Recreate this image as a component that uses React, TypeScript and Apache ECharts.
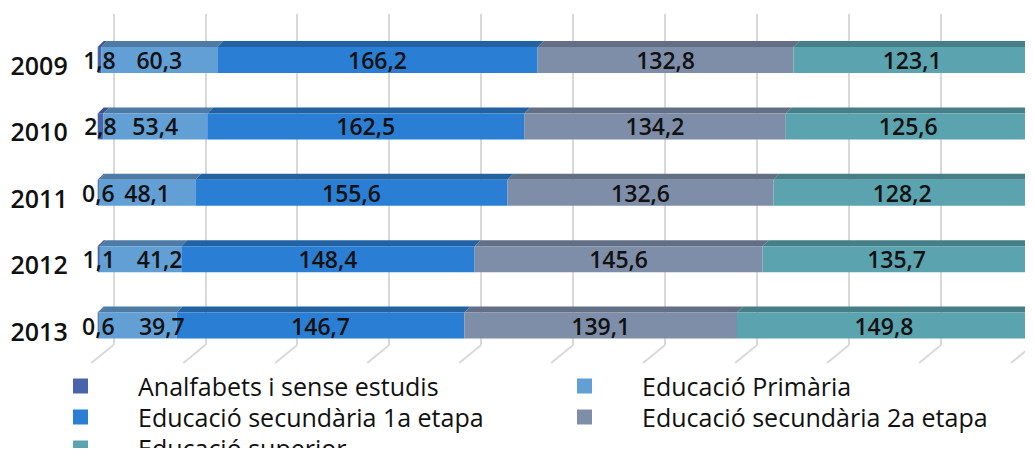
import React, { useEffect, useRef } from "react";
import * as echarts from "echarts";

const years = ["2009", "2010", "2011", "2012", "2013"];
const seriesNames = [
  "Analfabets i sense estudis",
  "Educació Primària",
  "Educació secundària 1a etapa",
  "Educació secundària 2a etapa",
  "Educació superior",
];
const analfabets = [1.8, 2.8, 0.6, 1.1, 0.6];
const primaria = [60.3, 53.4, 48.1, 41.2, 39.7];
const secundaria1 = [166.2, 162.5, 155.6, 148.4, 146.7];
const secundaria2 = [132.8, 134.2, 132.6, 145.6, 139.1];
const superior = [123.1, 125.6, 128.2, 135.7, 149.8];
const gridTicks = [0, 10, 20, 30, 40, 50, 60, 70, 80, 90, 100];

const frontColors = ["#4a64ab", "#629fd5", "#2a7fd4", "#7f8ea8", "#5ba3af"];
const topColors = ["#3d5290", "#4d7ba5", "#2262a3", "#636f85", "#467f87"];
const sideColors = ["#334478", "#40678a", "#1c5088", "#535d70", "#3a6a71"];

const FONT = "'Open Sans', Lato, sans-serif";

export default function App() {
  const ref = useRef<HTMLDivElement>(null);

  useEffect(() => {
    if (!ref.current) return;
    const chart = echarts.init(ref.current, null, { renderer: "svg" });
    const raw = [analfabets, primaria, secundaria1, secundaria2, superior];
    const totals = years.map((_, i) => raw.reduce((s, arr) => s + arr[i], 0));
    const pct = raw.map((arr) => arr.map((v, i) => (v / totals[i]) * 100));

    // faces data: [start, yearIdx, end, segIdx]
    const faces: number[][] = [];
    years.forEach((_, i) => {
      let acc = 0;
      pct.forEach((arr, s) => {
        faces.push([acc, i, acc + arr[i], s]);
        acc += arr[i];
      });
    });

    const HALF = 13;
    const DX = 6;
    const DY = 6;

    // labels of the primary segment moved right where they would collide
    const labelShift: Record<string, number> = { "1-3": 19, "1-4": 24 };

    const barSeries = seriesNames.map((name, s) => ({
      name,
      type: "bar",
      stack: "total",
      xAxisIndex: 0,
      yAxisIndex: 0,
      barWidth: HALF * 2,
      itemStyle: { color: frontColors[s] },
      z: 3,
      label: {
        show: true,
        position: "inside",
        color: "#111",
        fontFamily: FONT,
        fontWeight: 600,
        fontSize: 23,
        formatter: (p: any) => raw[s][p.dataIndex].toFixed(1).replace(".", ","),
      },
      data: pct[s].map((v, i) => {
        const sh = labelShift[`${s}-${i}`];
        return sh ? { value: v, label: { offset: [sh, 0] } } : v;
      }),
    }));

    const legendText = {
      fontFamily: FONT,
      fontSize: 25,
      color: "#111",
      lineHeight: 24,
      padding: [0, 0, 0, 45],
    };
    const legendBase = {
      orient: "vertical",
      top: 373.5,
      height: 100,
      padding: 0,
      itemWidth: 15,
      itemHeight: 15,
      itemGap: 6,
      icon: "rect",
      textStyle: legendText,
    };

    chart.setOption({
      animation: false,
      textStyle: { fontFamily: FONT },
      grid: [
        { left: 97.7, right: 2.3, top: 26.8, bottom: 97.2, containLabel: false },
        { left: 113.3, right: -13.3, top: 14, bottom: 111, containLabel: false },
      ],
      xAxis: [
        { type: "value", gridIndex: 0, min: 0, max: 100, show: false },
        {
          type: "value",
          gridIndex: 1,
          min: 0,
          max: 100,
          interval: 10,
          axisLine: { show: false },
          axisTick: { show: false },
          axisLabel: { show: false },
          splitLine: { show: true, lineStyle: { color: "#d9d9d9", width: 2 } },
        },
      ],
      yAxis: [
        {
          type: "category",
          gridIndex: 0,
          inverse: true,
          data: years,
          axisLine: { show: false },
          axisTick: { show: false },
          splitLine: { show: false },
          axisLabel: {
            margin: 30,
            formatter: "{y|{value}}",
            rich: {
              y: {
                color: "#111",
                fontFamily: FONT,
                fontWeight: 600,
                fontSize: 25,
                padding: [10, 0, 0, 0],
              },
            },
          },
        },
        { type: "value", gridIndex: 1, min: 0, max: 1, show: false, splitLine: { show: false } },
      ],
      legend: [
        { ...legendBase, left: 73, data: [seriesNames[0], seriesNames[2], seriesNames[4]] },
        { ...legendBase, left: 577, data: [seriesNames[1], seriesNames[3]] },
      ],
      series: [
        ...barSeries,
        {
          type: "custom",
          xAxisIndex: 0,
          yAxisIndex: 0,
          z: 2,
          silent: true,
          data: faces,
          renderItem: (params: any, api: any) => {
            const start = api.value(0);
            const yi = api.value(1);
            const end = api.value(2);
            const s = api.value(3);
            const p0 = api.coord([start, yi]);
            const p1 = api.coord([end, yi]);
            const top = p0[1] - HALF;
            const children: any[] = [
              {
                type: "polygon",
                shape: {
                  points: [
                    [p0[0], top],
                    [p1[0], top],
                    [p1[0] + DX, top - DY],
                    [p0[0] + DX, top - DY],
                  ],
                },
                style: { fill: topColors[s] },
              },
            ];
            if (s === seriesNames.length - 1) {
              children.push({
                type: "polygon",
                shape: {
                  points: [
                    [p1[0], top],
                    [p1[0] + DX, top - DY],
                    [p1[0] + DX, top - DY + HALF * 2],
                    [p1[0], top + HALF * 2],
                  ],
                },
                style: { fill: sideColors[s] },
              });
            }
            return { type: "group", children };
          },
        },
        {
          type: "custom",
          xAxisIndex: 1,
          yAxisIndex: 1,
          z: 1,
          silent: true,
          data: gridTicks.map((v) => [v, 0]),
          renderItem: (params: any, api: any) => {
            const p = api.coord([api.value(0), 0]);
            return {
              type: "line",
              shape: { x1: p[0], y1: p[1], x2: p[0] - 22, y2: p[1] + 18 },
              style: { stroke: "#d9d9d9", lineWidth: 2 },
            };
          },
        },
      ],
    });
    return () => chart.dispose();
  }, []);

  return <div ref={ref} style={{ width: 1033, height: 456, margin: -8 }} />;
}
